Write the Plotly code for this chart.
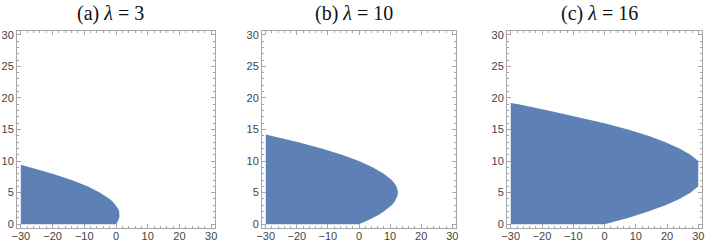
import plotly.graph_objects as go

# Boundary of the shaded region for each panel
# (right-hand curve, from y=0 up to where it leaves the plot at x=-30)
titles = ["(a) <i>λ</i> = 3", "(b) <i>λ</i> = 10", "(c) <i>λ</i> = 16"]

a_y = [0, 0.25, 0.5, 0.75, 1, 1.25, 1.5, 1.75, 2, 2.5, 3, 3.5, 4, 5, 6, 7, 8, 9, 9.4]
a_x = [0, 0.34, 0.63, 0.84, 1.0, 1.09, 1.13, 1.09, 1.0, 0.63, 0, -0.9, -2, -5, -9, -14, -20, -27, -30]

b_y = [0, 0.5, 1, 1.5, 2, 2.5, 3, 3.5, 4, 4.5, 5, 5.5, 6, 6.5, 7, 7.5, 8, 9, 10, 11, 12, 13, 14, 14.2]
b_x = [0, 2.4, 4.5, 6.4, 8, 9.4, 10.5, 11.4, 12, 12.4, 12.5, 12.4, 12, 11.4, 10.5, 9.4, 8, 4.5, 0, -5.5, -12, -19.5, -28, -29.8]

c_y = [0, 1, 2, 3, 4, 5, 5.5, 6, 10, 10.5, 11, 12, 13, 14, 15, 16, 17, 18, 19, 19.2]
c_x = [0, 7.5, 14, 19.5, 24, 27.5, 28.9, 30, 30, 28.9, 27.5, 24, 19.5, 14, 7.5, 0, -8.5, -18, -27.5, -30]

x_left = -30
x_ticks = [-30, -20, -10, 0, 10, 20, 30]
y_ticks = [0, 5, 10, 15, 20, 25, 30]

panels = [(a_x, a_y), (b_x, b_y), (c_x, c_y)]

fill_color = "#5E81B5"
frame_color = "#a6a6a6"

fig = go.Figure()

W, H = 708, 243
x_domains = [(17 / W, 215 / W), (262 / W, 456 / W), (507 / W, 702 / W)]
y_domain = (1 - 228 / H, 1 - 31 / H)
title_x = [110 / W, 353.5 / W, 599 / W]

for i, (bx, by) in enumerate(panels):
    xs = [x_left] + bx + [x_left, x_left]
    ys = [0] + by + [by[-1], 0]
    sfx = "" if i == 0 else str(i + 1)
    fig.add_trace(go.Scatter(
        x=xs, y=ys, mode="lines", fill="toself",
        fillcolor=fill_color, line=dict(width=0, color=fill_color),
        xaxis="x" + sfx, yaxis="y" + sfx, hoverinfo="skip", showlegend=False,
    ))
    axcommon = dict(
        showline=True, linecolor=frame_color, linewidth=1, mirror="allticks",
        ticks="inside", ticklen=4, tickcolor=frame_color, tickwidth=1,
        showgrid=False, zeroline=False, automargin=False,
        tickfont=dict(family="Liberation Sans, Arial, sans-serif", size=11, color="#444"),
    )
    fig.layout["xaxis" + sfx] = dict(
        axcommon, domain=x_domains[i], range=[-31.2, 31.2],
        tickvals=x_ticks, anchor="y" + sfx, ticklabelstandoff=-2,
        minor=dict(ticks="inside", ticklen=2, dtick=2, tick0=0, tickcolor=frame_color, showgrid=False),
    )
    fig.layout["yaxis" + sfx] = dict(
        axcommon, domain=y_domain, range=[-0.6, 30.6],
        tickvals=y_ticks, anchor="x" + sfx,
        minor=dict(ticks="inside", ticklen=2, dtick=1, tick0=0, tickcolor=frame_color, showgrid=False),
    )
    fig.add_annotation(
        text=titles[i], xref="paper", yref="paper",
        x=title_x[i], y=1 - 14 / H,
        showarrow=False, xanchor="center", yanchor="middle",
        font=dict(family="Liberation Serif, Times New Roman, serif", size=20, color="#111"),
    )

fig.update_layout(
    template="none",
    width=W, height=H, margin=dict(l=0, r=0, t=0, b=0),
    paper_bgcolor="white", plot_bgcolor="white",
)

fig.write_html(
    "out.html",
    config={"displayModeBar": False},
    post_script="document.body.style.margin='0';document.body.style.overflow='hidden';",
)
